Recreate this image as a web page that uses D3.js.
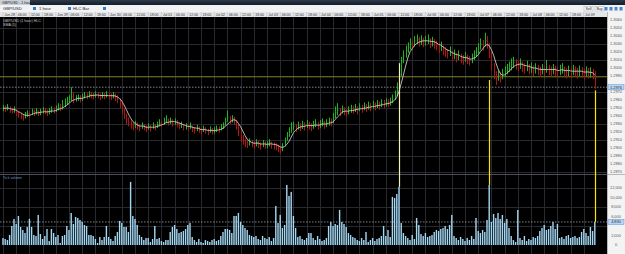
<!DOCTYPE html>
<html>
<head>
<meta charset="utf-8">
<script src="https://cdn.jsdelivr.net/npm/d3@7"></script>
<style>
  html, body { margin: 0; padding: 0; background: #000; overflow: hidden; }
  svg { display: block; }
  text { font-family: "Liberation Sans", Arial, sans-serif; }
</style>
</head>
<body>
<svg id="chart" width="625" height="254"></svg>
<script>
// GBP/USD 1 hour, HLC bars + tick volume

const closes = [
  1.2950,1.2949,1.2951,1.2947,1.2946,1.2948,1.2944,1.2942,1.2940,1.2938,
  1.2941,1.2943,1.2942,1.2945,1.2944,1.2946,1.2943,1.2945,1.2947,1.2946,
  1.2944,1.2946,1.2948,1.2947,1.2949,1.2951,1.2950,1.2953,1.2956,1.2958,
  1.2961,1.2964,1.2960,1.2962,1.2963,1.2961,1.2964,1.2966,1.2965,1.2967,
  1.2966,1.2965,1.2967,1.2966,1.2964,1.2966,1.2965,1.2967,1.2965,1.2964,
  1.2966,1.2963,1.2961,1.2955,1.2948,1.2942,1.2936,1.2932,1.2929,1.2927,
  1.2930,1.2927,1.2925,1.2928,1.2926,1.2924,1.2927,1.2925,1.2928,1.2926,
  1.2929,1.2931,1.2930,1.2933,1.2935,1.2932,1.2934,1.2931,1.2933,1.2930,
  1.2928,1.2929,1.2926,1.2927,1.2925,1.2928,1.2924,1.2922,1.2925,1.2923,
  1.2921,1.2924,1.2922,1.2920,1.2923,1.2921,1.2922,1.2924,1.2923,1.2926,
  1.2928,1.2933,1.2938,1.2935,1.2937,1.2934,1.2928,1.2920,1.2914,1.2909,
  1.2907,1.2905,1.2908,1.2906,1.2904,1.2907,1.2905,1.2903,1.2906,1.2904,
  1.2905,1.2907,1.2904,1.2903,1.2902,1.2900,1.2898,1.2901,1.2908,1.2915,
  1.2920,1.2924,1.2927,1.2925,1.2928,1.2926,1.2929,1.2927,1.2930,1.2928,
  1.2926,1.2929,1.2931,1.2928,1.2930,1.2932,1.2929,1.2931,1.2933,1.2932,
  1.2938,1.2944,1.2947,1.2945,1.2948,1.2946,1.2944,1.2947,1.2949,1.2948,
  1.2950,1.2947,1.2951,1.2949,1.2952,1.2950,1.2953,1.2951,1.2954,1.2952,
  1.2955,1.2953,1.2956,1.2955,1.2957,1.2956,1.2958,1.2962,1.2966,1.2975,
  1.2992,1.3008,1.3015,1.3022,1.3026,1.3030,1.3028,1.3034,1.3036,1.3033,
  1.3035,1.3032,1.3034,1.3036,1.3031,1.3033,1.3030,1.3028,1.3025,1.3027,
  1.3022,1.3020,1.3018,1.3021,1.3015,1.3017,1.3013,1.3016,1.3012,1.3010,
  1.3014,1.3011,1.3009,1.3012,1.3016,1.3020,1.3025,1.3030,1.3028,1.3034,
  1.3030,1.3018,1.3004,1.2994,1.2988,1.2991,1.2989,1.2993,1.2996,1.2999,
  1.3002,1.3004,1.3007,1.3005,1.3003,1.3006,1.3002,1.3000,1.3003,1.2999,
  1.3001,1.2997,1.3000,1.2998,1.2996,1.2999,1.2997,1.3001,1.2998,1.2996,
  1.2999,1.2997,1.2995,1.2998,1.3000,1.2996,1.2994,1.2997,1.2995,1.2998,
  1.2996,1.2994,1.2997,1.2995,1.2993,1.2996,1.2994,1.2995,1.2993,1.2976
];

const highs = [
  1.2954,1.2953,1.2955,1.2952,1.2950,1.2952,1.2949,1.2946,1.2944,1.2942,
  1.2945,1.2947,1.2946,1.2949,1.2948,1.2950,1.2947,1.2949,1.2951,1.2950,
  1.2948,1.2950,1.2952,1.2951,1.2953,1.2956,1.2955,1.2960,1.2962,1.2964,
  1.2966,1.2976,1.2970,1.2966,1.2967,1.2966,1.2968,1.2970,1.2969,1.2971,
  1.2970,1.2969,1.2971,1.2970,1.2968,1.2970,1.2969,1.2971,1.2969,1.2968,
  1.2970,1.2968,1.2966,1.2962,1.2956,1.2949,1.2943,1.2938,1.2934,1.2932,
  1.2934,1.2932,1.2929,1.2932,1.2930,1.2928,1.2931,1.2929,1.2932,1.2930,
  1.2933,1.2936,1.2934,1.2938,1.2941,1.2937,1.2938,1.2936,1.2937,1.2935,
  1.2932,1.2933,1.2930,1.2931,1.2929,1.2932,1.2928,1.2926,1.2929,1.2927,
  1.2925,1.2928,1.2926,1.2924,1.2927,1.2925,1.2926,1.2928,1.2927,1.2930,
  1.2932,1.2938,1.2947,1.2940,1.2941,1.2939,1.2935,1.2929,1.2922,1.2916,
  1.2912,1.2910,1.2912,1.2910,1.2908,1.2911,1.2909,1.2907,1.2910,1.2908,
  1.2909,1.2911,1.2908,1.2907,1.2906,1.2904,1.2902,1.2906,1.2913,1.2920,
  1.2926,1.2932,1.2933,1.2930,1.2933,1.2931,1.2934,1.2932,1.2935,1.2933,
  1.2931,1.2934,1.2936,1.2933,1.2935,1.2937,1.2934,1.2936,1.2938,1.2937,
  1.2944,1.2952,1.2956,1.2950,1.2953,1.2951,1.2949,1.2952,1.2954,1.2953,
  1.2955,1.2952,1.2956,1.2954,1.2957,1.2955,1.2958,1.2956,1.2959,1.2957,
  1.2960,1.2958,1.2961,1.2960,1.2962,1.2961,1.2963,1.2967,1.2972,1.2982,
  1.3005,1.3014,1.3022,1.3028,1.3032,1.3037,1.3034,1.3040,1.3042,1.3039,
  1.3041,1.3038,1.3040,1.3042,1.3037,1.3039,1.3036,1.3034,1.3031,1.3033,
  1.3028,1.3026,1.3024,1.3027,1.3021,1.3023,1.3019,1.3022,1.3018,1.3016,
  1.3020,1.3017,1.3015,1.3018,1.3022,1.3026,1.3031,1.3037,1.3035,1.3044,
  1.3040,1.3031,1.3020,1.3006,1.2996,1.2997,1.2995,1.2999,1.3002,1.3005,
  1.3008,1.3012,1.3014,1.3011,1.3009,1.3012,1.3008,1.3006,1.3009,1.3005,
  1.3007,1.3003,1.3006,1.3004,1.3002,1.3005,1.3003,1.3010,1.3004,1.3002,
  1.3005,1.3003,1.3001,1.3004,1.3006,1.3002,1.3000,1.3003,1.3001,1.3004,
  1.3002,1.3000,1.3003,1.3001,1.2999,1.3002,1.3000,1.3001,1.2999,1.2996
];

const lows = [
  1.2946,1.2945,1.2947,1.2944,1.2943,1.2944,1.2940,1.2938,1.2936,1.2934,
  1.2937,1.2939,1.2938,1.2941,1.2940,1.2942,1.2940,1.2941,1.2943,1.2942,
  1.2940,1.2942,1.2944,1.2943,1.2945,1.2947,1.2946,1.2948,1.2951,1.2954,
  1.2956,1.2959,1.2956,1.2958,1.2959,1.2957,1.2959,1.2962,1.2961,1.2963,
  1.2962,1.2961,1.2963,1.2962,1.2960,1.2962,1.2961,1.2963,1.2961,1.2960,
  1.2962,1.2959,1.2956,1.2950,1.2943,1.2936,1.2930,1.2927,1.2924,1.2922,
  1.2925,1.2923,1.2921,1.2924,1.2922,1.2920,1.2923,1.2921,1.2924,1.2922,
  1.2925,1.2927,1.2926,1.2929,1.2931,1.2928,1.2930,1.2927,1.2929,1.2926,
  1.2924,1.2925,1.2922,1.2923,1.2921,1.2924,1.2920,1.2918,1.2921,1.2919,
  1.2917,1.2920,1.2918,1.2916,1.2919,1.2917,1.2918,1.2920,1.2919,1.2922,
  1.2924,1.2928,1.2933,1.2930,1.2932,1.2929,1.2923,1.2915,1.2908,1.2904,
  1.2901,1.2900,1.2903,1.2901,1.2899,1.2902,1.2900,1.2898,1.2901,1.2899,
  1.2900,1.2902,1.2899,1.2898,1.2897,1.2895,1.2893,1.2896,1.2902,1.2909,
  1.2914,1.2919,1.2922,1.2920,1.2923,1.2921,1.2924,1.2922,1.2925,1.2923,
  1.2921,1.2924,1.2926,1.2923,1.2925,1.2927,1.2924,1.2926,1.2928,1.2927,
  1.2931,1.2937,1.2941,1.2940,1.2943,1.2941,1.2939,1.2942,1.2944,1.2943,
  1.2945,1.2942,1.2946,1.2944,1.2947,1.2945,1.2948,1.2946,1.2949,1.2947,
  1.2950,1.2948,1.2951,1.2950,1.2952,1.2951,1.2953,1.2956,1.2960,1.2965,
  1.2974,1.2990,1.3006,1.3013,1.3019,1.3023,1.3022,1.3027,1.3030,1.3027,
  1.3029,1.3026,1.3028,1.3030,1.3025,1.3027,1.3024,1.3022,1.3019,1.3021,
  1.3016,1.3014,1.3012,1.3015,1.3009,1.3011,1.3007,1.3010,1.3006,1.3004,
  1.3008,1.3005,1.3003,1.3006,1.3010,1.3014,1.3018,1.3023,1.3022,1.3027,
  1.3024,1.3012,1.2997,1.2986,1.2979,1.2984,1.2982,1.2986,1.2989,1.2992,
  1.2995,1.2997,1.3000,1.2998,1.2996,1.2999,1.2995,1.2993,1.2996,1.2992,
  1.2994,1.2990,1.2993,1.2991,1.2989,1.2992,1.2990,1.2994,1.2991,1.2989,
  1.2992,1.2990,1.2988,1.2991,1.2993,1.2989,1.2987,1.2990,1.2988,1.2991,
  1.2989,1.2987,1.2990,1.2988,1.2986,1.2989,1.2987,1.2988,1.2986,1.2974
];

const volumes = [
  1470,1260,1050,2100,3990,5460,4410,6090,3780,3150,
  2520,3780,5460,3780,2100,1890,6300,2310,1260,1890,
  3360,840,3360,2520,1680,2100,420,1890,2100,3990,
  3150,6720,4410,5880,5670,5250,4830,4200,3990,2100,
  2100,1890,1260,420,1680,1050,1680,3990,1680,1260,
  840,1890,2730,5040,4620,3780,3780,2730,13230,6090,
  5460,4200,2100,1680,1050,1470,1470,630,1260,3990,
  1260,1470,840,630,1050,1050,2730,3780,4200,3360,
  2520,2730,2940,3360,4200,4620,1680,1050,630,1260,
  630,420,1050,840,630,1050,1260,840,1050,1890,
  2730,3360,3360,3150,2520,6090,6090,6720,4830,4200,
  3570,3150,2100,1890,1680,1890,1260,1050,1890,1470,
  1260,1680,840,1470,8190,4620,6300,3570,4200,12600,
  10290,11130,6090,3570,1680,1890,1260,1050,1470,2520,
  2520,1470,1050,1890,1260,840,1050,1470,3990,4830,
  3990,4410,4200,7350,4830,4410,3780,2520,2100,1680,
  1470,1050,840,1470,1050,2730,630,1050,1470,840,
  1260,1470,1890,3990,1890,3150,1680,10080,9870,10710,
  12180,4620,2520,1890,1470,1050,2100,1260,5670,4200,
  2310,1890,2520,1680,1890,2100,2730,3150,2940,3360,
  3570,3990,3360,4200,6300,1890,1470,1050,1680,1260,
  840,1470,1050,1890,1260,5670,2940,2520,3150,2730,
  5250,12600,4830,6510,5670,6720,5460,6300,4620,5460,
  3570,1890,1050,630,7350,1470,1050,1890,840,1260,
  1050,1680,1470,1890,2940,3570,4200,3150,3360,3990,
  4830,3360,4410,1470,1680,1260,1890,2100,1470,1680,
  1890,1470,1680,2730,3360,2520,1890,3780,2940,4830
];

// one label every 6 bars
const timeLabels = [
  'Jun 28','06:00','12:00','18:00','Jun 29','06:00','12:00','18:00',
  'Jun 30','06:00','12:00','18:00','Jul 01','06:00','12:00','18:00',
  'Jul 02','06:00','12:00','18:00','Jul 03','06:00','12:00','18:00',
  'Jul 04','06:00','12:00','18:00','Jul 05','06:00','12:00','18:00',
  'Jul 06','06:00','12:00','18:00','Jul 07','06:00','12:00','18:00',
  'Jul 08','06:00','12:00','18:00','Jul 09'
];

const refLevel = 1.2989;          // olive horizontal level
const smaPeriod = 5;
// yellow volume-spike markers: bar index and price where the line starts
const markers = [
  { bar: 180, price: 1.3006, color: '#f4f0b8' },
  { bar: 221, price: 1.2985, color: '#ffe400' },
  { bar: 269, price: 1.2972, color: '#ffe400' }
];

const W = 625, H = 254;
const plotR = 607, plotTop = 17, sepY = 174;

const svg = d3.select('#chart');

const x = d3.scaleLinear().domain([0, closes.length - 1]).range([3, 594.8]);
const yP = d3.scaleLinear().domain([1.2870, 1.3060]).range([172, 20]);
const yV = d3.scaleLinear().domain([0, 13000]).range([245, 183]);

// background
svg.append('rect').attr('width', W).attr('height', H).attr('fill', '#000');

// ---- window chrome ----
const chrome = svg.append('defs').append('linearGradient')
  .attr('id', 'chrome').attr('x1', 0).attr('y1', 0).attr('x2', 0).attr('y2', 1);
chrome.append('stop').attr('offset', 0).attr('stop-color', '#2b3a4c');
chrome.append('stop').attr('offset', 1).attr('stop-color', '#141c26');
svg.append('rect').attr('width', W).attr('height', 5).attr('fill', 'url(#chrome)');
svg.append('rect').attr('x', 0).attr('y', 0).attr('width', 30).attr('height', 5).attr('fill', '#c9d0d8');
svg.append('text').attr('x', 2).attr('y', 4).attr('font-size', 3.6).attr('fill', '#222')
  .text('GBP/USD - 1 hour');

// toolbar
svg.append('rect').attr('y', 5).attr('width', W).attr('height', 7).attr('fill', '#f1f2f3');
const dropdowns = [
  { label: 'GBP/USD', x: 3, icon: 33 },
  { label: '1 hour', x: 39, icon: 68 },
  { label: 'HLC Bar', x: 73, icon: 103 }
];
dropdowns.forEach(d => {
  svg.append('text').attr('x', d.x).attr('y', 10.3).attr('font-size', 4.2).attr('fill', '#222').text(d.label);
  svg.append('rect').attr('x', d.icon).attr('y', 7).attr('width', 3).attr('height', 3).attr('fill', '#3b78c9');
});
[['Sell', 584], ['Buy', 595]].forEach(([t, px]) => {
  svg.append('rect').attr('x', px).attr('y', 6.5).attr('width', 9).attr('height', 4.5)
    .attr('fill', '#fafafa').attr('stroke', '#999').attr('stroke-width', 0.4);
  svg.append('text').attr('x', px + 4.5).attr('y', 10).attr('text-anchor', 'middle')
    .attr('font-size', 3.6).attr('fill', '#222').text(t);
});
[606, 611, 616, 621].forEach(px => {
  svg.append('rect').attr('x', px - 1.5).attr('y', 7).attr('width', 3).attr('height', 3.5).attr('fill', '#4a86d0');
});

// time axis row
svg.append('rect').attr('y', 12).attr('width', plotR).attr('height', 5).attr('fill', '#e4e5e7');
const gridBars = d3.range(0, closes.length, 6);
svg.append('g').selectAll('text').data(gridBars).join('text')
  .attr('x', i => x(i) + 1.5).attr('y', 15.9)
  .attr('font-size', 3.5).attr('fill', '#333')
  .text((i, k) => timeLabels[k]);
svg.append('g').selectAll('line').data(gridBars).join('line')
  .attr('x1', i => x(i)).attr('x2', i => x(i)).attr('y1', 12).attr('y2', 17)
  .attr('stroke', '#b5b8bc').attr('stroke-width', 0.5);

// ---- grid ----
const grid = svg.append('g');
grid.selectAll('line.v').data(gridBars).join('line')
  .attr('x1', i => Math.round(x(i)) + 0.5).attr('x2', i => Math.round(x(i)) + 0.5)
  .attr('y1', plotTop).attr('y2', H)
  .attr('stroke', '#272b31').attr('stroke-width', 1);

const priceTicks = yP.ticks(20);
grid.selectAll('line.h').data(priceTicks.filter(p => Math.round(p * 10000) % 20 === 10)).join('line')
  .attr('x1', 0).attr('x2', plotR)
  .attr('y1', p => Math.round(yP(p)) + 0.5).attr('y2', p => Math.round(yP(p)) + 0.5)
  .attr('stroke', '#272b31');

const volTicks = d3.range(0, 13001, 2000);
grid.selectAll('line.vh').data([4000, 8000, 12000]).join('line')
  .attr('x1', 0).attr('x2', plotR)
  .attr('y1', v => Math.round(yV(v)) + 0.5).attr('y2', v => Math.round(yV(v)) + 0.5)
  .attr('stroke', '#272b31');

// panel separator
svg.append('line').attr('x1', 0).attr('x2', W).attr('y1', sepY + 0.5).attr('y2', sepY + 0.5)
  .attr('stroke', '#4a4f56');

// ---- reference lines ----
const last = closes.length - 1;
svg.append('line').attr('x1', 0).attr('x2', plotR)
  .attr('y1', yP(refLevel)).attr('y2', yP(refLevel))
  .attr('stroke', '#77761f').attr('stroke-width', 1);
svg.append('line').attr('x1', 0).attr('x2', plotR)
  .attr('y1', yP(closes[last])).attr('y2', yP(closes[last]))
  .attr('stroke', '#9aa1a8').attr('stroke-width', 0.8).attr('stroke-dasharray', '1.5,1.5');
svg.append('line').attr('x1', 0).attr('x2', plotR)
  .attr('y1', yV(volumes[last])).attr('y2', yV(volumes[last]))
  .attr('stroke', '#9aa1a8').attr('stroke-width', 0.8).attr('stroke-dasharray', '1.5,1.5');

// ---- HLC bars ----
const up = '#22b322', down = '#b01515';
const bars = svg.append('g').selectAll('g').data(closes).join('g')
  .attr('stroke', (c, i) => (i === 0 || c >= closes[i - 1]) ? up : down);
bars.append('line')
  .attr('x1', (c, i) => Math.round(x(i)) + 0.5).attr('x2', (c, i) => Math.round(x(i)) + 0.5)
  .attr('y1', (c, i) => yP(highs[i])).attr('y2', (c, i) => yP(lows[i]))
  .attr('stroke-width', 1);
bars.append('line')
  .attr('x1', (c, i) => Math.round(x(i)) + 0.5).attr('x2', (c, i) => Math.round(x(i)) + 1.5)
  .attr('y1', c => yP(c)).attr('y2', c => yP(c))
  .attr('stroke-width', 0.8);

// moving average
const sma = closes.map((c, i) => d3.mean(closes.slice(Math.max(0, i - smaPeriod + 1), i + 1)));
svg.append('path').datum(sma)
  .attr('fill', 'none').attr('stroke', '#c8c8c8').attr('stroke-width', 0.9)
  .attr('d', d3.line().x((v, i) => x(i)).y(v => yP(v)));

// ---- volume ----
svg.append('g').selectAll('rect').data(volumes).join('rect')
  .attr('x', (v, i) => x(i) - 0.7).attr('width', 1.4)
  .attr('y', v => yV(v)).attr('height', v => yV(0) - yV(v))
  .attr('fill', '#a3d8f2');

// volume spike markers
svg.append('g').selectAll('line').data(markers).join('line')
  .attr('x1', m => Math.round(x(m.bar)) + 0.5).attr('x2', m => Math.round(x(m.bar)) + 0.5)
  .attr('y1', m => yP(m.price)).attr('y2', m => yV(volumes[m.bar]))
  .style('stroke', m => m.color).attr('stroke-width', 1.2);

// ---- labels inside plot ----
svg.append('text').attr('x', 3).attr('y', 21.5).attr('font-size', 3.6).attr('fill', '#c4c4c4')
  .text('GBP/USD (1 hour) HLC');
svg.append('text').attr('x', 3).attr('y', 25.5).attr('font-size', 3.6).attr('fill', '#c4c4c4')
  .text('SMA (' + smaPeriod + ')');
svg.append('text').attr('x', 3).attr('y', 179).attr('font-size', 3.6).attr('fill', '#6f95c8')
  .text('Tick volume');

// ---- right axis ----
svg.append('rect').attr('x', plotR).attr('y', 12).attr('width', W - plotR).attr('height', H - 12)
  .attr('fill', '#f3f3f3');
svg.append('line').attr('x1', plotR + 0.5).attr('x2', plotR + 0.5).attr('y1', 12).attr('y2', H)
  .attr('stroke', '#8d9096').attr('stroke-width', 0.6);
svg.append('line').attr('x1', plotR).attr('x2', W).attr('y1', sepY + 0.5).attr('y2', sepY + 0.5)
  .attr('stroke', '#8d9096').attr('stroke-width', 0.6);

const fmtP = d3.format('.4f');
const fmtV = d3.format(',');
const lastP = closes[last], lastV = volumes[last];

svg.append('g').selectAll('text')
  .data(priceTicks.filter(p => Math.abs(yP(p) - yP(lastP)) > 4))
  .join('text')
  .attr('x', 616).attr('y', p => yP(p) + 1.4).attr('text-anchor', 'middle')
  .attr('font-size', 3.9).attr('fill', '#555').text(fmtP);

svg.append('g').selectAll('text')
  .data(volTicks.filter(v => Math.abs(yV(v) - yV(lastV)) > 4))
  .join('text')
  .attr('x', 616).attr('y', v => yV(v) + 1.4).attr('text-anchor', 'middle')
  .attr('font-size', 3.9).attr('fill', '#555').text(fmtV);

// current value boxes
[[yP(lastP), fmtP(lastP)], [yV(lastV), fmtV(lastV)]].forEach(([yy, t]) => {
  svg.append('rect').attr('x', plotR + 1).attr('y', yy - 2.6).attr('width', W - plotR - 2).attr('height', 5.2)
    .attr('fill', '#bcd6f2').attr('stroke', '#5d8fd0').attr('stroke-width', 0.5);
  svg.append('text').attr('x', 616).attr('y', yy + 1.4).attr('text-anchor', 'middle')
    .attr('font-size', 3.9).attr('fill', '#1a2a40').text(t);
});
</script>
</body>
</html>
